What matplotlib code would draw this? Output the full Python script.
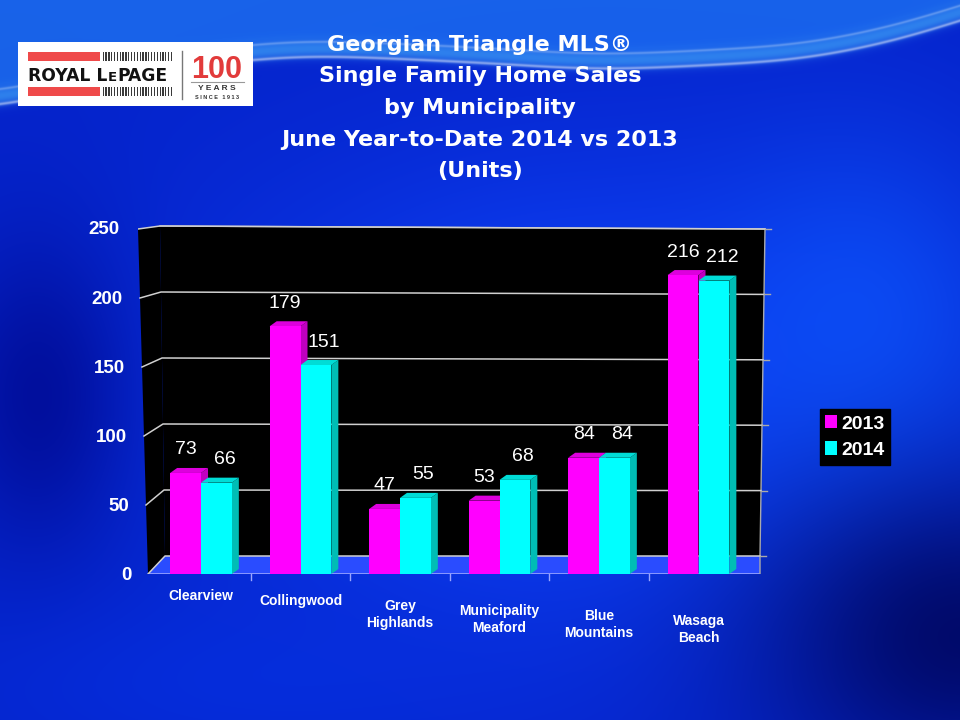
import numpy as np
import matplotlib
matplotlib.use("Agg")
import matplotlib.pyplot as plt
from matplotlib.patches import Rectangle, Polygon
from matplotlib.transforms import ScaledTranslation

categories = ["Clearview", "Collingwood", "Grey\nHighlands", "Municipality\nMeaford",
              "Blue\nMountains", "Wasaga\nBeach"]
sales_2013 = [73, 179, 47, 53, 84, 216]
sales_2014 = [66, 151, 55, 68, 84, 212]
series_names = ["2013", "2014"]
y_ticks = [0, 50, 100, 150, 200, 250]
title_lines = ["Georgian Triangle MLS®", "Single Family Home Sales", "by Municipality",
               "June Year-to-Date 2014 vs 2013", "(Units)"]

W, H = 960, 720
plt.rcParams['font.family'] = ['Liberation Sans', 'DejaVu Sans']
fig = plt.figure(figsize=(W / 100, H / 100), dpi=100)

# ---------------- background gradient ----------------
bg = fig.add_axes([0, 0, 1, 1])
py, px = np.mgrid[0:H, 0:W].astype(float)
xx, yy = px / W, py / H
def blob(cx, cy, sx, sy):
    return np.exp(-(((xx - cx) / sx) ** 2 + ((yy - cy) / sy) ** 2))
img = np.ones((H, W, 3)) * np.array([0.02, 0.14, 0.80])
def mix(col, w):
    global img
    img = img * (1 - w[..., None]) + np.array(col) * w[..., None]
# wave ribbon near the top (pixel control points of its centre line), smoothed
wave_x = [0, 150, 300, 480, 600, 800, 900, 960]
wave_y = [100, 62, 46, 54, 62, 52, 32, 12]
raw = np.interp(np.arange(W), wave_x, wave_y)
k = np.exp(-0.5 * (np.arange(-150, 151) / 45.0) ** 2); k /= k.sum()
padded = np.concatenate([np.full(150, raw[0]) + (raw[0] - raw[150:0:-1]) * 0 + raw[0] - raw[0],
                         raw, raw[-1] + (raw[-1] - raw[-2:-152:-1])])
wy = np.convolve(padded, k, mode='same')[150:150 + W][None, :]
above = np.clip((wy - py) / 25 + 0.5, 0, 1)
mix([0.10, 0.40, 0.92], 0.95 * above)
mix([0.06, 0.28, 1.00], 0.9 * blob(0.62, 0.55, 0.38, 0.33))
mix([0.05, 0.35, 1.00], 0.6 * blob(0.9, 0.45, 0.15, 0.25))
mix([0.00, 0.03, 0.55], 0.75 * blob(0.04, 0.55, 0.10, 0.22))
mix([0.00, 0.02, 0.35], 0.85 * blob(1.0, 0.88, 0.22, 0.22))
mix([0.02, 0.20, 0.90], 0.5 * blob(0.25, 0.95, 0.3, 0.12))
band = np.exp(-((py - wy) / 9) ** 2)
mix([0.22, 0.58, 0.95], 0.75 * band)
edge_line = np.exp(-((py - (wy + 8)) / 1.6) ** 2) * 0.45
img = img + edge_line[..., None] * (1 - img)
edge_line2 = np.exp(-((py - (wy - 7)) / 1.4) ** 2) * 0.25
img = np.clip(img + edge_line2[..., None] * (1 - img), 0, 1)
bg.imshow(img, aspect='auto', extent=[0, 1, 0, 1], origin='upper')
bg.set_xlim(0, 1); bg.set_ylim(0, 1)
bg.axis('off')

def fx(p): return p / W
def fy(p): return 1 - p / H

# ---------------- logo ----------------
fig.patches.append(Rectangle((fx(18), fy(106)), fx(253) - fx(18), fy(42) - fy(106),
                             transform=fig.transFigure, facecolor='white', edgecolor='none', zorder=2))
for y0 in (52, 87):
    fig.patches.append(Rectangle((fx(28), fy(y0 + 9)), fx(100) - fx(28), fy(y0) - fy(y0 + 9),
                                 transform=fig.transFigure, facecolor='#ef4a4a', edgecolor='none', zorder=3))
    for i in range(25):
        xs = 102.5 + i * 2.85
        fig.patches.append(Rectangle((fx(xs), fy(y0 + 9)), fx(1.3), fy(y0) - fy(y0 + 9),
                                     transform=fig.transFigure, facecolor='#3a3a3a', edgecolor='none', zorder=3))
renderer = fig.canvas.get_renderer()
cur = 28.0
for part, size in (("ROYAL L", 12.3), ("E", 9.5), ("PAGE", 12.3)):
    t = fig.text(fx(cur), fy(81), part, fontsize=size, fontweight='bold', color='#111111',
                 family='DejaVu Sans', ha='left', va='baseline', zorder=4)
    bb = t.get_window_extent(renderer)
    cur = bb.x1 + 0.5
fig.lines.append(plt.Line2D([fx(182), fx(182)], [fy(51), fy(99)], transform=fig.transFigure,
                            color='#777777', lw=1, zorder=4))
fig.text(fx(217), fy(77.5), "100", fontsize=22, fontweight='bold', color='#e23b3b',
         ha='center', va='baseline', zorder=4)
fig.lines.append(plt.Line2D([fx(191), fx(244)], [fy(82), fy(82)], transform=fig.transFigure,
                            color='#999999', lw=0.8, zorder=4))
fig.text(fx(217), fy(90.5), "Y E A R S", fontsize=6, fontweight='bold', color='#333333',
         ha='center', va='baseline', zorder=4)
fig.text(fx(217), fy(99), "S I N C E   1 9 1 3", fontsize=4, fontweight='bold', color='#333333',
         ha='center', va='baseline', zorder=4)

# ---------------- title ----------------
for i, line in enumerate(title_lines):
    fig.text(fx(480), fy(51 + 31.5 * i), line, fontsize=16, fontweight='bold', color='white',
             family='DejaVu Sans', ha='center', va='baseline', zorder=4)

# ---------------- chart ----------------
X0_PX, XSTEP_PX = 201.0, 99.5      # centre of first group, group spacing (pixels)
Y0_PX, YSCALE = 574.0, 1.384       # pixel row of value 0 at the front, px per unit
AX_L, AX_R, AX_T = 138, 780, 216

def dx_(p): return (p - X0_PX) / XSTEP_PX
def dy_(p): return (Y0_PX - p) / YSCALE

ax = fig.add_axes([fx(AX_L), fy(Y0_PX), fx(AX_R) - fx(AX_L), fy(AX_T) - fy(Y0_PX)])
ax.set_facecolor('none')
n = len(categories)
x = np.arange(n)
ax.set_xlim(dx_(AX_L), dx_(AX_R))
ax.set_ylim(0, dy_(AX_T))

# frame corners (pixels) of the pseudo-3D walls
front_tl, front_bl = (138, 229), (148, 574)
back_tl, back_bl = (160, 226), (165, 556)
back_tr, back_br = (765, 229), (760, 556)
floor_fr = (760, 574)

def P(pt): return (dx_(pt[0]), dy_(pt[1]))
def lerp(a, b, t): return (a[0] + (b[0] - a[0]) * t, a[1] + (b[1] - a[1]) * t)

ax.add_patch(Polygon([P(back_bl), P(back_tl), P(back_tr), P(back_br)], closed=True,
                     facecolor='black', edgecolor='none', zorder=0.5))
ax.add_patch(Polygon([P(front_bl), P(front_tl), P(back_tl), P(back_bl)], closed=True,
                     facecolor='black', edgecolor='none', zorder=0.5))
ax.add_patch(Polygon([P(front_bl), P(back_bl), P(back_br), P(floor_fr)], closed=True,
                     facecolor='#2a4cff', edgecolor='none', zorder=0.6))
ax.plot([P(front_bl)[0], P(floor_fr)[0]], [0, 0], color='#9aa6ff', lw=1.2, zorder=0.7,
        solid_capstyle='butt')
ax.plot([P(back_tl)[0], P(back_tr)[0]], [P(back_tl)[1], P(back_tr)[1]], color='#bbbbbb', lw=1,
        zorder=0.8)
ax.plot([P(back_tr)[0], P(back_br)[0], P(floor_fr)[0]],
        [P(back_tr)[1], P(back_br)[1], 0], color='#aaaaaa', lw=1, zorder=0.8)
for kk in range(1, n):
    ax.plot([kk - 0.5, kk - 0.5], [0, -6 / YSCALE], color='#9aa6ff', lw=1, zorder=0.8,
            clip_on=False)

for yt in y_ticks:
    t = yt / 250.0
    fpt = lerp(P(front_bl), P(front_tl), t)
    bpt = lerp(P(back_bl), P(back_tl), t)
    rpt = lerp(P(back_br), P(back_tr), t)
    ax.plot([fpt[0], bpt[0], rpt[0]], [fpt[1], bpt[1], rpt[1]], color='#d0d0d0', lw=1.1,
            zorder=0.9)
    ax.plot([rpt[0], rpt[0] + 0.06], [rpt[1], rpt[1]], color='#aaaaaa', lw=1, zorder=0.9,
            clip_on=False)

bw = 0.31
ddx = 7 / XSTEP_PX
ddy = 5 / YSCALE
face = {"2013": ('#ff00ff', '#c000c0', '#dd00dd'), "2014": ('#00ffff', '#00bdb5', '#00dcd6')}
label_shift = {"2013": 0.0, "2014": 8 / XSTEP_PX}
for s, vals, off in ((series_names[0], sales_2013, -bw / 2), (series_names[1], sales_2014, bw / 2)):
    front, side, topc = face[s]
    bars = ax.bar(x + off, vals, width=bw, color=front, edgecolor='none', zorder=3, label=s)
    for bar, v in zip(bars, vals):
        x0 = bar.get_x(); x1 = x0 + bar.get_width()
        ax.add_patch(Polygon([(x1, 0), (x1 + ddx, ddy), (x1 + ddx, v + ddy), (x1, v)],
                             closed=True, facecolor=side, edgecolor='none', zorder=2.9))
        ax.add_patch(Polygon([(x0, v), (x0 + ddx, v + ddy), (x1 + ddx, v + ddy), (x1, v)],
                             closed=True, facecolor=topc, edgecolor='none', zorder=2.9))
        ax.text(x0 + bw / 2 + label_shift[s], v + 23 / YSCALE, f"{v}", color='white',
                fontsize=14, ha='center', va='center', zorder=5)

for sp in ax.spines.values():
    sp.set_visible(False)
ax.set_yticks(y_ticks)
ax.set_yticklabels([str(t) for t in y_ticks], color='white', fontsize=13.5, fontweight='bold')
ax.tick_params(axis='y', length=0, pad=4.5)
for lab, yt in zip(ax.get_yticklabels(), y_ticks):
    lab.set_transform(lab.get_transform() +
                      ScaledTranslation(-(yt / 250.0) * 12 / 100, 0, fig.dpi_scale_trans))
ax.set_xticks(x)
ax.set_xticklabels(categories, color='white', fontsize=10, fontweight='bold', linespacing=1.25)
ax.tick_params(axis='x', length=0, pad=11)
for i, lab in enumerate(ax.get_xticklabels()):
    lab.set_multialignment('center')
    lab.set_transform(lab.get_transform() +
                      ScaledTranslation(0, -5.0 * i / 100, fig.dpi_scale_trans))

leg = fig.legend(loc='center', bbox_to_anchor=(fx(855), fy(437)),
                 prop={'weight': 'bold', 'size': 14}, frameon=True, facecolor='black',
                 edgecolor='black', framealpha=1, fancybox=False, handlelength=0.62,
                 handleheight=0.68, handletextpad=0.2, borderpad=0.3, labelspacing=0.45,
                 borderaxespad=0)
for t in leg.get_texts():
    t.set_color('white')

fig.savefig("out.png", dpi=100)
